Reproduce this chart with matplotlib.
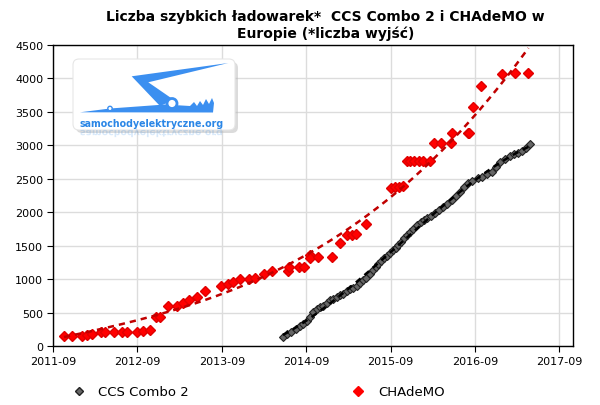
import matplotlib
matplotlib.use("Agg")
import matplotlib.pyplot as plt
import numpy as np
from matplotlib.patches import FancyBboxPatch, Polygon, Circle, PathPatch
from matplotlib.textpath import TextPath
from matplotlib.font_manager import FontProperties
from matplotlib.lines import Line2D

# dates as decimal years (2011-09 = 2011.667)
chademo_t = [2011.797, 2011.896, 2012.007, 2012.066, 2012.132, 2012.236, 2012.283, 2012.393,
             2012.488, 2012.547, 2012.659, 2012.730, 2012.816, 2012.884, 2012.935, 2013.033,
             2013.133, 2013.211, 2013.278, 2013.370, 2013.468, 2013.658, 2013.737, 2013.796,
             2013.883, 2013.993, 2014.060, 2014.167, 2014.258, 2014.450, 2014.460, 2014.585,
             2014.645, 2014.712, 2014.715, 2014.810, 2014.973, 2015.067, 2015.147, 2015.206,
             2015.257, 2015.372, 2015.672, 2015.719, 2015.766, 2015.814, 2015.861, 2015.897,
             2015.944, 2016.003, 2016.051, 2016.134, 2016.184, 2016.260, 2016.383, 2016.391,
             2016.580, 2016.599, 2016.647, 2016.742, 2016.993, 2017.141, 2017.298]
chademo_v = [155, 155, 155, 165, 180, 205, 205, 205,
             215, 215, 215, 230, 245, 430, 430, 605,
             605, 645, 695, 740, 820, 890, 920, 955,
             995, 995, 1020, 1070, 1115, 1115, 1180, 1180,
             1180, 1355, 1315, 1330, 1330, 1540, 1655, 1665,
             1680, 1830, 2365, 2380, 2375, 2385, 2770, 2770,
             2770, 2770, 2770, 2770, 3040, 3040, 3040, 3190,
             3190, 3190, 3580, 3880, 4070, 4080, 4080]

ccs_t = [2014.392, 2014.439, 2014.487, 2014.546, 2014.593, 2014.629, 2014.676, 2014.712,
         2014.748, 2014.795, 2014.831, 2014.866, 2014.914, 2014.949, 2014.985, 2015.032,
         2015.068, 2015.103, 2015.150, 2015.186, 2015.221, 2015.269, 2015.304, 2015.340,
         2015.375, 2015.423, 2015.458, 2015.494, 2015.518, 2015.553, 2015.589, 2015.624,
         2015.660, 2015.695, 2015.731, 2015.755, 2015.790, 2015.826, 2015.861, 2015.897,
         2015.932, 2015.980, 2016.027, 2016.063, 2016.098, 2016.146, 2016.193, 2016.240,
         2016.288, 2016.335, 2016.394, 2016.442, 2016.489, 2016.537, 2016.584, 2016.631,
         2016.702, 2016.750, 2016.809, 2016.868, 2016.916, 2016.963, 2017.022, 2017.082,
         2017.129, 2017.176, 2017.224, 2017.271, 2017.318]
ccs_v = [135, 180, 205, 250, 295, 335, 380, 440,
         505, 555, 585, 605, 650, 690, 705, 740,
         765, 780, 815, 845, 865, 900, 935, 980,
         1020, 1080, 1130, 1180, 1230, 1275, 1310, 1340,
         1390, 1430, 1470, 1505, 1550, 1610, 1655, 1705,
         1750, 1805, 1850, 1890, 1915, 1950, 1995, 2040,
         2080, 2130, 2180, 2240, 2305, 2370, 2430, 2460,
         2510, 2530, 2570, 2605, 2680, 2755, 2800, 2845,
         2870, 2890, 2920, 2960, 3015]

# trend line of CHAdeMO
chademo_trend_t = [2011.797, 2012.303, 2012.816, 2013.092, 2013.658, 2014.258, 2014.712,
                   2015.147, 2015.561, 2015.936, 2016.39, 2016.647, 2016.963, 2017.082, 2017.30]
chademo_trend_v = [155, 255, 420, 530, 755, 1130, 1430, 1730, 2105, 2505, 3030, 3430,
                   3905, 4105, 4450]

xtick_pos = [2011.667 + k for k in range(7)]
xtick_labels = ["2011-09", "2012-09", "2013-09", "2014-09", "2015-09", "2016-09", "2017-09"]
yticks = list(range(0, 4501, 500))

fig = plt.figure(figsize=(6, 4.06), dpi=100)
ax = fig.add_axes([0.0883, 0.1453, 0.8672, 0.7414])

ax.grid(True, color="#dcdcdc", linewidth=1)
ax.set_axisbelow(True)

ax.plot(chademo_t, chademo_v, "D", ms=5, color="#ff0000", mec="#e00000", zorder=3)
ax.plot(ccs_t, ccs_v, "D", ms=4.5, mfc="#666666", mec="#222222", mew=0.8, zorder=3)

# trend lines (cubic fits)
c1 = np.polyfit(np.array(chademo_trend_t) - 2014, chademo_trend_v, 3)
tt1 = np.linspace(chademo_trend_t[0], chademo_trend_t[-1], 200)
ax.plot(tt1, np.polyval(c1, tt1 - 2014), "--", color="#c00000", lw=1.8, dashes=(2.5, 2), zorder=4)
c2 = np.polyfit(np.array(ccs_t) - 2014, ccs_v, 3)
tt2 = np.linspace(ccs_t[0], ccs_t[-1], 200)
ax.plot(tt2, np.polyval(c2, tt2 - 2014), "--", color="black", lw=1.8, dashes=(2.5, 2), zorder=4)

ax.set_xlim(2011.667, 2017.832)
ax.set_ylim(0, 4500)
ax.set_xticks(xtick_pos)
ax.set_xticklabels(xtick_labels)
ax.set_yticks(yticks)
ax.tick_params(labelsize=8, length=4, pad=3, color="black")
for s in ax.spines.values():
    s.set_color("black")
    s.set_linewidth(1)

fig.text(0.543, 1 - 17 / 406, "Liczba szybkich ładowarek*  CCS Combo 2 i CHAdeMO w",
         ha="center", va="center", fontsize=10, fontweight="bold")
fig.text(0.543, 1 - 34 / 406, "Europie (*liczba wyjść)",
         ha="center", va="center", fontsize=10, fontweight="bold")

handles = [Line2D([], [], ls="", marker="D", ms=4.5, mfc="#666666", mec="#222222"),
           Line2D([], [], ls="", marker="D", ms=5, color="#ff0000")]
fig.legend(handles, ["CCS Combo 2", "CHAdeMO"], loc="center left",
           bbox_to_anchor=(0.109, 1 - 393 / 406), ncol=2, frameon=False,
           fontsize=9.5, handlelength=1, handletextpad=1.0, columnspacing=12.3,
           borderpad=0)

# logo overlay, drawn in pixel coordinates (y down)
lg = fig.add_axes([0, 0, 1, 1], zorder=10)
lg.set_xlim(0, 600)
lg.set_ylim(406, 0)
lg.axis("off")
lg.add_patch(FancyBboxPatch((76, 63), 162, 71, boxstyle="round,pad=0,rounding_size=6",
                            fc="#b8b8b8", ec="none", alpha=0.5))
lg.add_patch(FancyBboxPatch((73, 60), 162, 71, boxstyle="round,pad=0,rounding_size=6",
                            fc="white", ec="#e6e6e6", lw=0.8))
blue = "#3b8ff0"
lg.add_patch(Polygon([(131.7, 77.3), (228.3, 64), (148.3, 83.3), (174, 101), (160, 107)],
                     closed=True, fc=blue, ec="none"))
lg.add_patch(Polygon([(80, 113.3), (110, 109.5), (165, 105.5), (190, 107), (194, 103),
                      (197, 107), (200, 102), (203, 106), (206, 100), (209, 105),
                      (212, 99), (214, 104), (213, 113.5)],
                     closed=True, fc=blue, ec="none"))
lg.add_patch(Circle((172, 104.5), 5, fc="white", ec=blue, lw=2))
lg.add_patch(Circle((110, 109.5), 2.2, fc="white", ec=blue, lw=1))
lg.text(80, 124, "samochodyelektryczne.org", fontsize=6.85, fontweight="bold",
        color="#2a86e6", va="center", ha="left")
fp = FontProperties(family="DejaVu Sans", weight="bold")
refl = TextPath((80, 131), "samochodyelektryczne.org", size=9.4, prop=fp)
lg.add_patch(PathPatch(refl, fc="#2a86e6", ec="none", alpha=0.18))

fig.savefig("out.png", dpi=100)
